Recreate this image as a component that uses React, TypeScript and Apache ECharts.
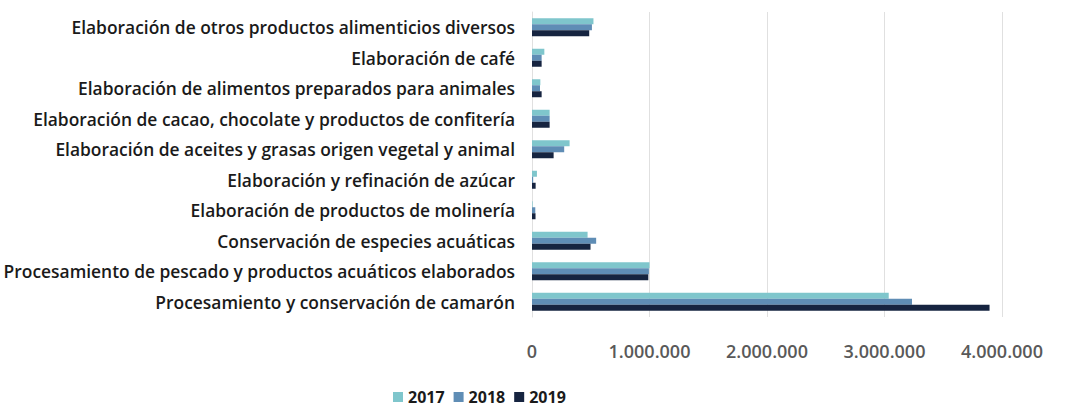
import React, { useEffect, useRef } from "react";
import * as echarts from "echarts";

const categories = [
  "Procesamiento y conservación de camarón",
  "Procesamiento de pescado y productos acuáticos elaborados",
  "Conservación de especies acuáticas",
  "Elaboración de productos de molinería",
  "Elaboración y refinación de azúcar",
  "Elaboración de aceites y grasas origen vegetal y animal",
  "Elaboración de cacao, chocolate y productos de confitería",
  "Elaboración de alimentos preparados para animales",
  "Elaboración de café",
  "Elaboración de otros productos alimenticios diversos",
];

const values2017 = [3036000, 1000000, 473000, 5000, 42000, 320000, 150000, 71000, 105000, 523000];
const values2018 = [3234000, 995000, 546000, 28000, 10000, 274000, 150000, 68000, 82000, 510000];
const values2019 = [3894000, 990000, 498000, 30000, 31000, 184000, 150000, 82000, 82000, 487000];

const years = ["2017", "2018", "2019"];
const colors = ["#7fc6cc", "#5f8db5", "#162440"];

const fmt = (v: number) => String(v).replace(/\B(?=(\d{3})+(?!\d))/g, ".");

export default function App() {
  const ref = useRef<HTMLDivElement>(null);
  useEffect(() => {
    if (!ref.current) return;
    const chart = echarts.init(ref.current, null, { renderer: "svg" });
    const font = "'Open Sans', 'Noto Sans', sans-serif";
    const seriesData = [values2017, values2018, values2019];
    chart.setOption({
      animation: false,
      grid: { left: 532, right: 83, top: 12, bottom: 93, containLabel: false },
      legend: {
        data: years,
        left: 388,
        bottom: 0,
        itemWidth: 10,
        itemHeight: 10,
        itemGap: 9,
        icon: "rect",
        textStyle: { fontFamily: font, fontSize: 16, fontWeight: 700, color: "#1a1a1a" },
      },
      xAxis: {
        type: "value",
        min: 0,
        max: 4000000,
        interval: 1000000,
        axisLine: { show: false },
        axisTick: { show: false },
        splitLine: { lineStyle: { color: "#e0e0e0", width: 1 } },
        axisLabel: {
          margin: 25,
          formatter: (v: number) => fmt(v),
          fontFamily: font,
          fontSize: 18,
          fontWeight: 600,
          color: "#595959",
        },
      },
      yAxis: {
        type: "category",
        data: categories,
        axisLine: { show: true, lineStyle: { color: "#e0e0e0" } },
        axisTick: { show: false },
        axisLabel: {
          margin: 17,
          fontFamily: font,
          fontSize: 17.4,
          fontWeight: 600,
          color: "#1a1a1a",
        },
      },
      series: years.map((y, i) => ({
        name: y,
        type: "bar",
        data: seriesData[i],
        barWidth: 6,
        barGap: "0%",
        itemStyle: { color: colors[i] },
      })),
    });
    return () => chart.dispose();
  }, []);
  return (
    <div
      ref={ref}
      style={{ position: "absolute", left: 0, top: 0, width: 1085, height: 410, background: "#fff" }}
    />
  );
}
